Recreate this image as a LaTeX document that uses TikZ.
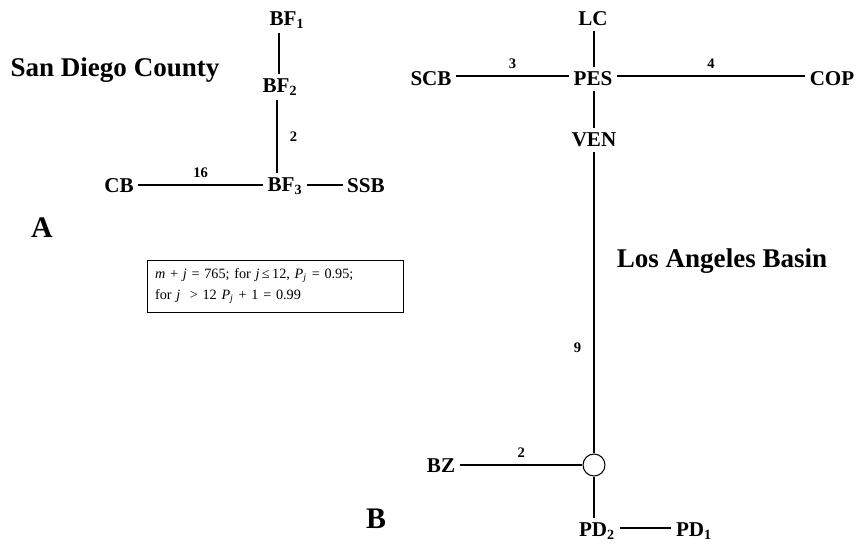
\documentclass[tikz,border=0pt]{standalone}
\usepackage{fontspec}
\setmainfont{Liberation Serif}
\usetikzlibrary{positioning}
\tikzset{
  site/.style={font=\bfseries\fontsize{12}{12}\selectfont, inner sep=2.5pt},
  weight/.style={font=\bfseries\fontsize{8.3}{8.3}\selectfont, inner sep=1pt},
  region/.style={font=\bfseries\fontsize{15.4}{15.4}\selectfont, inner sep=0pt},
  panel/.style={font=\bfseries\fontsize{17}{17}\selectfont, inner sep=0pt},
  link/.style={line width=0.6pt}
}

\begin{document}
\begin{tikzpicture}[x=0.02cm,y=-0.02cm]
\useasboundingbox (0,0) rectangle (861,545);

% San Diego County
\node[region] (sdc) at (115,70) {San Diego County};
\node[panel] (pa) at (42,228) {A};
\node[site] (bf1) at (287,20) {BF\textsubscript{1}};
\node[site] (bf2) at (280,87) {BF\textsubscript{2}};
\node[site] (bf3) at (285,186) {BF\textsubscript{3}};
\node[site] (cb) at (119,186) {CB};
\node[site] (ssb) at (366,186) {SSB};
\draw[link] (bf1.south -| 279,0) -- (bf2.north -| 279,0);
\draw[link] (bf2.south -| 277,0) -- node[weight, right=6pt] {2} (bf3.north -| 277,0);
\draw[link] (cb.east |- 0,185) -- node[weight, above=3pt] {16} (bf3.west |- 0,185);
\draw[link] (bf3.east |- 0,185) -- (ssb.west |- 0,185);

\node[draw, line width=0.5pt, minimum width=5.12cm, minimum height=1.04cm,
  text width=4.8cm, align=left, inner sep=2pt,
  font=\fontsize{8.1}{12.2}\selectfont] (cond) at (275,286)
{\textit{m} + \textit{j} = 765; for \textit{j}\,≤\,12, \textit{P}\textsubscript{\textit{j}} = 0.95;\\
 for \textit{j} \ > 12 \textit{P}\textsubscript{\textit{j}} + 1 = 0.99};

% Los Angeles Basin
\node[region] (lab) at (722,261) {Los Angeles Basin};
\node[panel] (pb) at (376,519) {B};
\node[site] (lc) at (593,19) {LC};
\node[site] (pes) at (593,79) {PES};
\node[site] (scb) at (431,79) {SCB};
\node[site] (cop) at (832,79) {COP};
\node[site] (ven) at (594,140) {VEN};
\node[draw, circle, minimum size=0.44cm, inner sep=0pt, line width=0.6pt] (junc) at (594,465) {};
\node[site] (bz) at (441,466) {BZ};
\node[site] (pd2) at (597,531) {PD\textsubscript{2}};
\node[site] (pd1) at (694,531) {PD\textsubscript{1}};
\draw[link] (lc.south -| 594,0) -- (pes.north -| 594,0);
\draw[link] (scb.east |- 0,76) -- node[weight, above=3pt] {3} (pes.west |- 0,76);
\draw[link] (pes.east |- 0,76) -- node[weight, above=3pt] {4} (cop.west |- 0,76);
\draw[link] (pes.south -| 594,0) -- (ven.north -| 594,0);
\draw[link] (ven.south -| 594,0) -- node[weight, left=6pt, pos=0.65] {9} (junc.north);
\draw[link] (bz.east |- junc.west) -- node[weight, above=3pt] {2} (junc.west);
\draw[link] (junc.south) -- (pd2.north -| junc.south);
\draw[link] (pd2.east |- 0,528) -- (pd1.west |- 0,528);

\end{tikzpicture}
\end{document}
